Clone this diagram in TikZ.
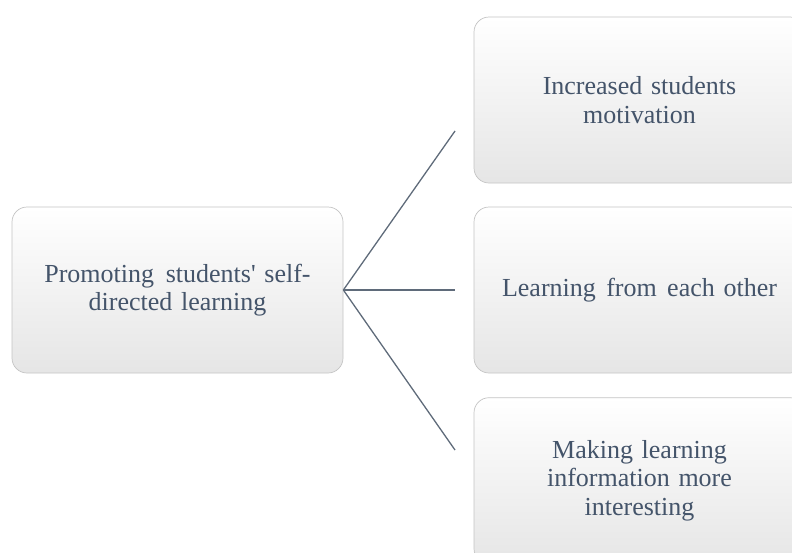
\documentclass[tikz,border=0pt]{standalone}
\usepackage{fontspec}
\setmainfont{Liberation Serif}
\definecolor{txt}{HTML}{44546A}
\definecolor{edge}{HTML}{C4C4C4}
\definecolor{conn}{HTML}{5F6B7A}
\begin{document}
\begin{tikzpicture}[x=1pt,y=-1pt,
  box/.style={draw=edge, line width=0.7pt, rounded corners=15pt,
    minimum width=331pt, minimum height=166pt, inner sep=0pt,
    top color=white, middle color=gray!5, bottom color=gray!20,
    text=txt, align=center, text width=310pt,
    font=\fontsize{26}{28.6}\selectfont},
  link/.style={draw=conn, line width=1.3pt}]
\useasboundingbox (0,0) rectangle (792,552);
\clip (0,0) rectangle (792,552);
\node[box] (root) at (177.5,290) {Promoting\hspace{0.45em}students\textquotesingle{} self-\\directed learning};
\node[box] (c1) at (639.5,100) {Increased students\\motivation};
\node[box] (c2) at (639.5,290) {Learning\hspace{0.4em}from\hspace{0.4em}each other};
\node[box] (c3) at (639.5,480.7) {Making learning\\information more\\interesting};
\coordinate (e1) at (455,131);
\coordinate (e2) at (455,290);
\coordinate (e3) at (455,450);
\draw[link] (root.east) -- (e1);
\draw[link] (root.east) -- (e2);
\draw[link] (root.east) -- (e3);
\end{tikzpicture}
\end{document}
